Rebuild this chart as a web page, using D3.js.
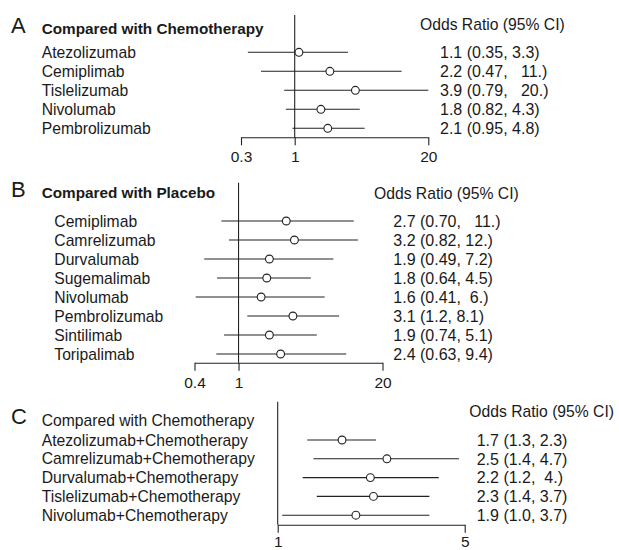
<!DOCTYPE html>
<html><head><meta charset="utf-8">
<script src="https://cdn.jsdelivr.net/npm/d3@7"></script>
<style>
body{margin:0;background:#fff}
text{font-family:"Liberation Sans",Arial,Helvetica,sans-serif;fill:#1a1a1a;white-space:pre}
</style>
</head><body>
<svg id="chart" width="619" height="550"></svg>
<script>
// ---------- Data ----------
const namesA = ["Atezolizumab","Cemiplimab","Tislelizumab","Nivolumab","Pembrolizumab"];
const orA = [1.1, 2.2, 3.9, 1.8, 2.1];
const loA = [0.35, 0.47, 0.79, 0.82, 0.95];
const hiA = [3.3, 11, 20, 4.3, 4.8];
const ciA = ["1.1 (0.35, 3.3)","2.2 (0.47,   11.)","3.9 (0.79,   20.)","1.8 (0.82, 4.3)","2.1 (0.95, 4.8)"];
const ticksA = [0.3, 1, 20];
const tickLabelsA = ["0.3","1","20"];

const namesB = ["Cemiplimab","Camrelizumab","Durvalumab","Sugemalimab","Nivolumab","Pembrolizumab","Sintilimab","Toripalimab"];
const orB = [2.7, 3.2, 1.9, 1.8, 1.6, 3.1, 1.9, 2.4];
const loB = [0.70, 0.82, 0.49, 0.64, 0.41, 1.2, 0.74, 0.63];
const hiB = [11, 12, 7.2, 4.5, 6, 8.1, 5.1, 9.4];
const ciB = ["2.7 (0.70,   11.)","3.2 (0.82, 12.)","1.9 (0.49, 7.2)","1.8 (0.64, 4.5)","1.6 (0.41,  6.)","3.1 (1.2, 8.1)","1.9 (0.74, 5.1)","2.4 (0.63, 9.4)"];
const ticksB = [0.4, 1, 20];
const tickLabelsB = ["0.4","1","20"];

const namesC = ["Atezolizumab+Chemotherapy","Camrelizumab+Chemotherapy","Durvalumab+Chemotherapy","Tislelizumab+Chemotherapy","Nivolumab+Chemotherapy"];
const orC = [1.74, 2.56, 2.22, 2.28, 1.96];
const loC = [1.29, 1.36, 1.24, 1.40, 1.04];
const hiC = [2.33, 4.76, 4.0, 3.69, 3.69];
const ciC = ["1.7 (1.3, 2.3)","2.5 (1.4, 4.7)","2.2 (1.2,  4.)","2.3 (1.4, 3.7)","1.9 (1.0, 3.7)"];
const ticksC = [1, 5];
const tickLabelsC = ["1","5"];

const panelLetters = ["A","B","C"];
const panelTitles = ["Compared with Chemotherapy","Compared with Placebo","Compared with Chemotherapy"];
const headerText = "Odds Ratio (95% CI)";

// ---------- Layout ----------
const svg = d3.select("#chart");
const INK = "#222";

const panels = [
  {names:namesA, or:orA, lo:loA, hi:hiA, ci:ciA, ticks:ticksA, tickLabels:tickLabelsA,
   domain:[0.3,20], range:[241,428.3], letterY:33.3, titleY:33.7, titleBold:true,
   headerX:420, headerY:29.6, labelX:41.7, valueX:440, row0:52.3, rowStep:19,
   vTop:15, axisY:137.3, pad:6},
  {names:namesB, or:orB, lo:loB, hi:hiB, ci:ciB, ticks:ticksB, tickLabels:tickLabelsB,
   domain:[0.4,20], range:[194.5,382.5], letterY:196.7, titleY:198, titleBold:true,
   headerX:374, headerY:199, labelX:54.3, valueX:393.3, row0:221, rowStep:19,
   vTop:182.7, axisY:362.7, pad:6},
  {names:namesC, or:orC, lo:loC, hi:hiC, ci:ciC, ticks:ticksC, tickLabels:tickLabelsC,
   domain:[1,5], range:[277.7,464.7], letterY:424, titleY:425.7, titleBold:false,
   headerX:469.3, headerY:417.3, labelX:41.7, valueX:476.7, row0:440, rowStep:18.8,
   vTop:401.7, axisY:524.7, pad:3}
];

panels.forEach((p, k) => {
  const g = svg.append("g");
  const x = d3.scaleLog().domain(p.domain).range(p.range);
  const idx = d3.range(p.names.length);
  const y = d3.scalePoint().domain(idx).range([p.row0, p.row0 + p.rowStep*(idx.length-1)]);

  // panel letter
  g.append("text").attr("x", 11).attr("y", p.letterY)
    .style("font-size","22px").text(panelLetters[k]);
  // title
  g.append("text").attr("x", 41.7).attr("y", p.titleY)
    .style("font-size", p.titleBold ? "15.3px" : "15.7px")
    .style("font-weight", p.titleBold ? "bold" : "normal")
    .text(panelTitles[k]);
  // header
  g.append("text").attr("x", p.headerX).attr("y", p.headerY)
    .style("font-size","15.7px").text(headerText);

  // reference line at OR = 1
  g.append("line")
    .attr("x1", x(1)).attr("x2", x(1))
    .attr("y1", p.vTop).attr("y2", p.axisY)
    .attr("stroke", INK).attr("stroke-width", 1.1);

  // axis
  const axis = d3.axisBottom(x)
    .tickValues(p.ticks)
    .tickFormat((d,i) => p.tickLabels[i])
    .tickSize(8).tickSizeOuter(0).tickPadding(p.pad);
  const ag = g.append("g").attr("transform", `translate(0,${p.axisY})`).call(axis);
  ag.select(".domain").attr("stroke", INK).attr("stroke-width", 1.1);
  ag.selectAll(".tick line").attr("stroke", INK).attr("stroke-width", 1.1);
  ag.selectAll(".tick text")
    .attr("fill", "#1a1a1a")
    .style("font-family", '"Liberation Sans",Arial,sans-serif')
    .style("font-size","15.5px");

  // row labels
  g.selectAll(".lab").data(idx).join("text")
    .attr("x", p.labelX).attr("y", i => y(i)).attr("dy","0.36em")
    .style("font-size","15.7px").text(i => p.names[i]);

  // CI lines
  g.selectAll(".ci").data(idx).join("line")
    .attr("x1", i => x(p.lo[i])).attr("x2", i => x(p.hi[i]))
    .attr("y1", i => y(i)).attr("y2", i => y(i))
    .attr("stroke", INK).attr("stroke-width", 1.1);

  // points
  g.selectAll(".pt").data(idx).join("circle")
    .attr("cx", i => x(p.or[i])).attr("cy", i => y(i)).attr("r", 3.9)
    .attr("fill", "#fff").attr("stroke", INK).attr("stroke-width", 1.1);

  // value text
  g.selectAll(".val").data(idx).join("text")
    .attr("x", p.valueX).attr("y", i => y(i)).attr("dy","0.36em")
    .style("font-size","16px").text(i => p.ci[i]);
});
</script>
</body></html>
